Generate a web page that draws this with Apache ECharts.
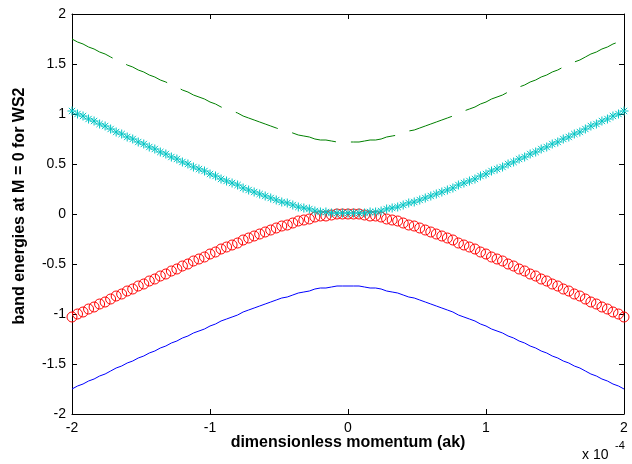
<!DOCTYPE html>
<html>
<head>
<meta charset="utf-8">
<script src="https://cdn.jsdelivr.net/npm/echarts@6/dist/echarts.min.js"></script>
<style>html,body{margin:0;padding:0;background:#fff}#c{width:632px;height:464px}</style>
</head>
<body>
<div id="c"></div>
<script>
// x samples in units of 1e-4 (ak)
var xStart = -2, xStep = 0.04, nPts = 101;
var xTicks = [-2, -1, 0, 1, 2];
var yTicks = [-2, -1.5, -1, -0.5, 0, 0.5, 1, 1.5, 2];

var cyanBand = [1.03,1.00,0.98,0.95,0.93,0.90,0.88,0.85,0.82,0.80,0.77,0.75,0.72,0.70,0.67,0.65,0.62,0.60,0.57,0.55,0.52,0.50,0.47,0.45,0.43,0.40,0.38,0.35,0.33,0.31,0.29,0.26,0.24,0.22,0.20,0.18,0.16,0.14,0.12,0.11,0.09,0.07,0.06,0.05,0.03,0.02,0.02,0.01,0.01,0.01,0.01,0.01,0.01,0.01,0.02,0.02,0.03,0.05,0.06,0.07,0.09,0.11,0.12,0.14,0.16,0.18,0.20,0.22,0.24,0.26,0.29,0.31,0.33,0.35,0.38,0.40,0.43,0.45,0.47,0.50,0.52,0.55,0.57,0.60,0.62,0.65,0.67,0.70,0.72,0.75,0.77,0.80,0.82,0.85,0.88,0.90,0.93,0.95,0.98,1.00,1.03];
var redBand = [-1.03,-1.00,-0.98,-0.95,-0.93,-0.90,-0.88,-0.85,-0.82,-0.80,-0.77,-0.75,-0.72,-0.70,-0.67,-0.65,-0.62,-0.60,-0.57,-0.55,-0.52,-0.50,-0.47,-0.45,-0.43,-0.40,-0.38,-0.35,-0.33,-0.31,-0.29,-0.26,-0.24,-0.22,-0.20,-0.18,-0.16,-0.14,-0.12,-0.11,-0.09,-0.07,-0.06,-0.05,-0.03,-0.02,-0.02,-0.01,0.00,0.00,0.00,0.00,0.00,-0.01,-0.02,-0.02,-0.03,-0.05,-0.06,-0.07,-0.09,-0.11,-0.12,-0.14,-0.16,-0.18,-0.20,-0.22,-0.24,-0.26,-0.29,-0.31,-0.33,-0.35,-0.38,-0.40,-0.43,-0.45,-0.47,-0.50,-0.52,-0.55,-0.57,-0.60,-0.62,-0.65,-0.67,-0.70,-0.72,-0.75,-0.77,-0.80,-0.82,-0.85,-0.88,-0.90,-0.93,-0.95,-0.98,-1.00,-1.03];
var greenBand = [1.75,1.72,1.70,1.67,1.65,1.62,1.60,1.57,1.54,1.52,1.49,1.47,1.44,1.42,1.39,1.37,1.34,1.32,1.29,1.27,1.24,1.22,1.19,1.17,1.15,1.12,1.10,1.07,1.05,1.03,1.01,0.98,0.96,0.94,0.92,0.90,0.88,0.86,0.84,0.83,0.81,0.79,0.78,0.77,0.75,0.74,0.74,0.73,0.72,0.72,0.72,0.72,0.72,0.73,0.74,0.74,0.75,0.77,0.78,0.79,0.81,0.83,0.84,0.86,0.88,0.90,0.92,0.94,0.96,0.98,1.01,1.03,1.05,1.07,1.10,1.12,1.15,1.17,1.19,1.22,1.24,1.27,1.29,1.32,1.34,1.37,1.39,1.42,1.44,1.47,1.49,1.52,1.54,1.57,1.60,1.62,1.65,1.67,1.70,1.72,1.75];
var blueBand = [-1.75,-1.72,-1.70,-1.67,-1.65,-1.62,-1.60,-1.57,-1.54,-1.52,-1.49,-1.47,-1.44,-1.42,-1.39,-1.37,-1.34,-1.32,-1.29,-1.27,-1.24,-1.22,-1.19,-1.17,-1.15,-1.12,-1.10,-1.07,-1.05,-1.03,-1.01,-0.98,-0.96,-0.94,-0.92,-0.90,-0.88,-0.86,-0.84,-0.83,-0.81,-0.79,-0.78,-0.77,-0.75,-0.74,-0.74,-0.73,-0.72,-0.72,-0.72,-0.72,-0.72,-0.73,-0.74,-0.74,-0.75,-0.77,-0.78,-0.79,-0.81,-0.83,-0.84,-0.86,-0.88,-0.90,-0.92,-0.94,-0.96,-0.98,-1.01,-1.03,-1.05,-1.07,-1.10,-1.12,-1.15,-1.17,-1.19,-1.22,-1.24,-1.27,-1.29,-1.32,-1.34,-1.37,-1.39,-1.42,-1.44,-1.47,-1.49,-1.52,-1.54,-1.57,-1.60,-1.62,-1.65,-1.67,-1.70,-1.72,-1.75];

var xs = [];
for (var i = 0; i < nPts; i++) xs.push(+(xStart + i * xStep).toFixed(2));
function pairs(ys) { return xs.map(function (x, i) { return [x, ys[i]]; }); }

var FONT = '"Liberation Sans", Arial, Helvetica, sans-serif';
var starPath = 'path://M0,5L10,5M5,0L5,10M1.5,1.5L8.5,8.5M8.5,1.5L1.5,8.5';

var chart = echarts.init(document.getElementById('c'), null, {renderer: 'canvas'});
var axisCommon = {
  type: 'value', min: -2, max: 2, interval: 1,
  axisLine: {show: true, onZero: false, lineStyle: {color: '#000', width: 1}},
  axisTick: {show: true, inside: true, length: 5, lineStyle: {color: '#000'}},
  splitLine: {show: false}
};
chart.setOption({
  animation: false,
  backgroundColor: '#fff',
  grid: {left: 72, top: 14, width: 552, height: 400, containLabel: false, outerBoundsMode: 'none'},
  xAxis: [
    Object.assign({}, axisCommon, {position: 'bottom',
      axisLabel: {show: true, color: '#000', fontSize: 14, fontFamily: FONT, margin: 7,
        formatter: function (v) { return String(v); }}}),
    Object.assign({}, axisCommon, {position: 'top', axisLabel: {show: false}})
  ],
  yAxis: [
    Object.assign({}, axisCommon, {interval: 0.5, position: 'left',
      axisLabel: {show: true, color: '#000', fontSize: 14, fontFamily: FONT, margin: 6,
        formatter: function (v) { return String(v); }}}),
    Object.assign({}, axisCommon, {interval: 0.5, position: 'right', axisLabel: {show: false}})
  ],
  series: [
    {type: 'line', data: pairs(greenBand), showSymbol: false, z: 2,
      lineStyle: {color: '#008000', width: 1, type: [45, 15]}},
    {type: 'line', data: pairs(blueBand), showSymbol: false, z: 2,
      lineStyle: {color: '#0000ff', width: 1}},
    {type: 'line', data: pairs(redBand), showSymbol: true, showAllSymbol: true, symbol: 'circle', symbolSize: 10, z: 3,
      lineStyle: {opacity: 0, width: 0},
      itemStyle: {color: 'rgba(0,0,0,0)', borderColor: '#ff0000', borderWidth: 1}},
    {type: 'line', data: pairs(cyanBand), showSymbol: true, showAllSymbol: true, symbol: starPath, symbolSize: 9, z: 4,
      lineStyle: {opacity: 0, width: 0},
      itemStyle: {color: 'rgba(0,0,0,0)', borderColor: '#00c4c4', borderWidth: 1}}
  ],
  graphic: [
    {type: 'text', x: 348, y: 443, z: 10,
      style: {text: 'dimensionless momentum (ak)', font: 'bold 16px ' + FONT, fill: '#000', align: 'center', verticalAlign: 'middle'}},
    {type: 'text', x: 20, y: 206, rotation: Math.PI / 2, z: 10,
      style: {text: 'band energies at M = 0 for WS2', font: 'bold 16px ' + FONT, fill: '#000', align: 'center', verticalAlign: 'middle'}},
    {type: 'text', x: 582, y: 455, z: 10,
      style: {text: 'x 10', font: '14px ' + FONT, fill: '#000', verticalAlign: 'middle'}},
    {type: 'text', x: 615, y: 446, z: 10,
      style: {text: '-4', font: '11px ' + FONT, fill: '#000', verticalAlign: 'middle'}}
  ]
});
</script>
</body>
</html>
